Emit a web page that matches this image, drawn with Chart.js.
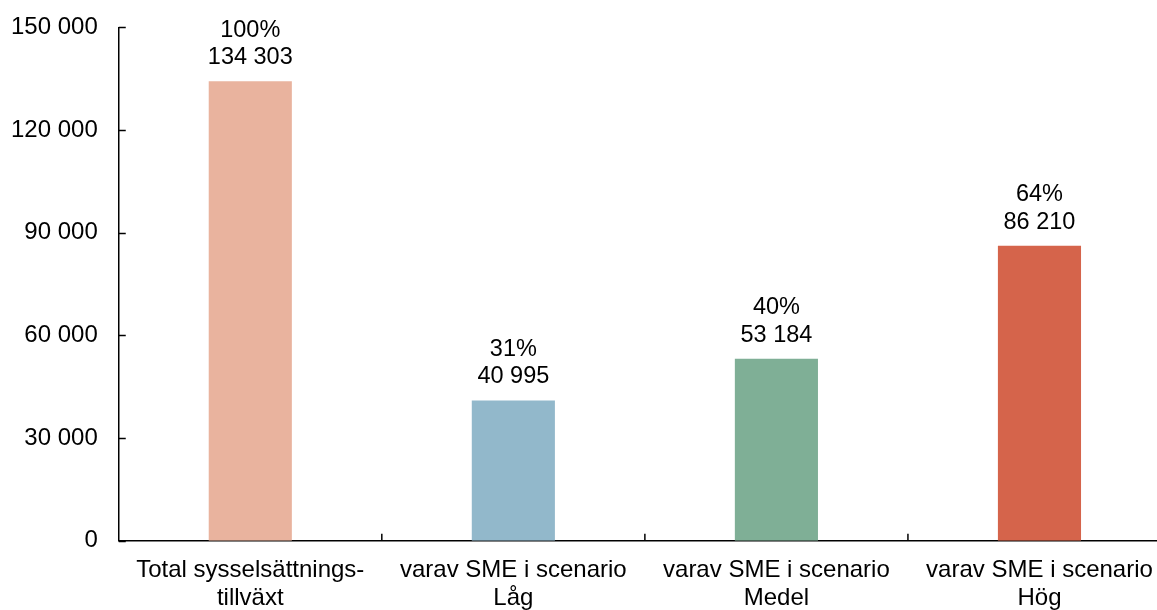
<!DOCTYPE html>
<html>
<head>
<meta charset="utf-8">
<script src="https://cdn.jsdelivr.net/npm/chart.js@4.4.1/dist/chart.umd.min.js"></script>
<style>
  html, body { margin: 0; padding: 0; background: #fff; overflow: hidden; }
  #wrap { width: 1157px; height: 610px; overflow: hidden; position: relative; }
  #chart { position: absolute; left: -20px; top: -8px; }
</style>
</head>
<body>
<div id="wrap">
  <canvas id="chart" width="1195" height="636"></canvas>
</div>
<script>
const categories = [
  ["Total sysselsättnings-", "tillväxt"],
  ["varav SME i scenario", "Låg"],
  ["varav SME i scenario", "Medel"],
  ["varav SME i scenario", "Hög"],
];
const values = [134303, 40995, 53184, 86210];
const shares = ["100%", "31%", "40%", "64%"];
const barColors = ["#E9B39E", "#92B8CB", "#7FAF96", "#D5644B"];
const yTicks = [0, 30000, 60000, 90000, 120000, 150000];

const fontFamily = "'Liberation Sans', Arial, sans-serif";
const fmt = (v) => String(v).replace(/\B(?=(\d{3})+(?!\d))/g, " ");

// ticks pointing into the plot, like the original
const innerTicks = {
  id: "innerTicks",
  afterDraw(chart) {
    const { ctx, chartArea, scales } = chart;
    ctx.save();
    ctx.strokeStyle = "#000";
    ctx.lineWidth = 1.5;
    yTicks.forEach((t) => {
      const y = Math.round(scales.y.getPixelForValue(t)) + 0.5;
      ctx.beginPath();
      ctx.moveTo(chartArea.left, y);
      ctx.lineTo(chartArea.left + 7, y);
      ctx.stroke();
    });
    for (let i = 0; i < categories.length - 1; i++) {
      const x = (scales.x.getPixelForTick(i) + scales.x.getPixelForTick(i + 1)) / 2;
      ctx.beginPath();
      ctx.moveTo(x, chartArea.bottom);
      ctx.lineTo(x, chartArea.bottom - 7);
      ctx.stroke();
    }
    ctx.restore();
  },
};

// value + share labels above each bar
const barLabels = {
  id: "barLabels",
  afterDatasetsDraw(chart) {
    const { ctx } = chart;
    const meta = chart.getDatasetMeta(0);
    ctx.save();
    ctx.fillStyle = "#000";
    ctx.font = "23.5px " + fontFamily;
    ctx.textAlign = "center";
    ctx.textBaseline = "alphabetic";
    meta.data.forEach((bar, i) => {
      ctx.fillText(fmt(values[i]), bar.x, bar.y - 17);
      ctx.fillText(shares[i], bar.x, bar.y - 44.5);
    });
    ctx.restore();
  },
};

new Chart(document.getElementById("chart"), {
  type: "bar",
  data: {
    labels: categories,
    datasets: [
      {
        data: values,
        backgroundColor: barColors,
        borderWidth: 0,
        barPercentage: 1,
        categoryPercentage: 0.316,
      },
    ],
  },
  options: {
    responsive: false,
    animation: false,
    layout: {
      padding: { left: 10, top: 0, right: 4, bottom: 0 },
    },
    plugins: {
      legend: { display: false },
      tooltip: { enabled: false },
    },
    scales: {
      x: {
        grid: { display: false, drawTicks: false },
        border: { display: true, color: "#000", width: 1.5 },
        ticks: {
          color: "#000",
          padding: 16,
          maxRotation: 0,
          font: { family: fontFamily, size: 24, lineHeight: 1.15 },
        },
      },
      y: {
        min: 0,
        max: 150000,
        grid: { display: false, drawTicks: false },
        border: { display: true, color: "#000", width: 1.5 },
        afterBuildTicks: (scale) => {
          scale.ticks = yTicks.map((v) => ({ value: v }));
        },
        ticks: {
          color: "#000",
          padding: 21,
          font: { family: fontFamily, size: 24 },
          callback: (v) => fmt(v),
        },
      },
    },
  },
  plugins: [innerTicks, barLabels],
});
</script>
</body>
</html>
